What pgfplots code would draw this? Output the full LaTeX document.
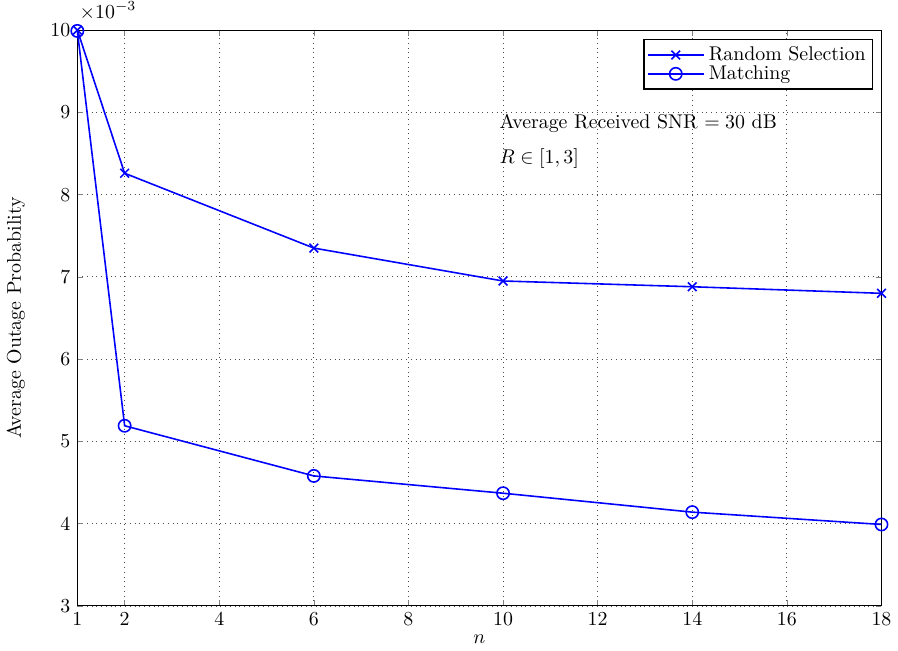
\documentclass[border=0pt]{standalone}
\usepackage{pgfplots}
\pgfplotsset{compat=1.18}
\definecolor{mblue}{rgb}{0,0,1}
\begin{document}
\begin{tikzpicture}
\begin{axis}[
  scale only axis,
  width=405pt, height=290pt,
  xmin=1, xmax=18, ymin=3, ymax=10,
  xtick={1,2,4,6,8,10,12,14,16,18},
  ytick={3,4,5,6,7,8,9,10},
  tick align=inside,
  major tick length=3pt,
  grid=major,
  grid style={dotted, black!70},
  axis line style={black, line width=0.6pt},
  xlabel={$n$},
  ylabel={Average Outage Probability},
  xlabel style={yshift=2pt},
  ylabel style={yshift=6pt},
  legend style={at={(0.99,0.985)}, anchor=north east, draw=black, line width=0.8pt, font=\normalsize, inner sep=1.5pt, row sep=-3pt},
  legend image code/.code={\draw[mark repeat=2, mark phase=2, #1] plot coordinates {(0cm,0cm) (0.5cm,0cm) (1cm,0cm)};},
  legend cell align=left,
  clip=false,
]
\addplot[mblue, line width=0.8pt, mark=x, mark size=3.1pt, mark options={line width=0.8pt}] coordinates {
(1,10) (2,8.26) (6,7.35) (10,6.95) (14,6.88) (18,6.80)};
\addlegendentry{Random Selection}
\addplot[mblue, line width=0.8pt, mark=o, mark size=3.1pt, mark options={line width=0.8pt}] coordinates {
(1,9.99) (2,5.19) (6,4.58) (10,4.37) (14,4.14) (18,3.99)};
\addlegendentry{Matching}
\node[anchor=west] at (axis cs:9.78,8.87) {Average Received SNR $=30$ dB};
\node[anchor=west] at (axis cs:9.78,8.44) {$R\in[1,3]$};
\node[anchor=south west, inner sep=1pt] at ([yshift=4pt]axis cs:1,10) {$\times10^{-3}$};
\end{axis}
\end{tikzpicture}
\end{document}
